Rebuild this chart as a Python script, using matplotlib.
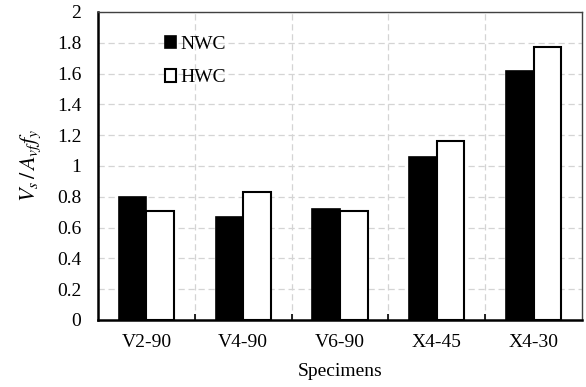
import numpy as np
import matplotlib.pyplot as plt

# 数据
specimens = ["V2-90", "V4-90", "V6-90", "X4-45", "X4-30"]
nwc = [0.80, 0.67, 0.72, 1.06, 1.62]
hwc = [0.71, 0.83, 0.71, 1.16, 1.77]
yticklabels = ["0", "0.2", "0.4", "0.6", "0.8", "1", "1.2", "1.4", "1.6", "1.8", "2"]

plt.rcParams['font.family'] = ['Liberation Serif', 'DejaVu Serif']
plt.rcParams['mathtext.fontset'] = 'stix'

fig = plt.figure(figsize=(5.86, 3.87), dpi=100)
ax = fig.add_axes([98/586, 1 - 320/387, 484/586, 308/387])

x = np.arange(len(specimens))
w = 0.285
ax.bar(x - w/2, nwc, w, color="black", edgecolor="black", linewidth=1.2, label="NWC", zorder=3)
ax.bar(x + w/2, hwc, w, color="white", edgecolor="black", linewidth=1.5, label="HWC", zorder=3)

ax.set_xlim(-0.5, len(specimens) - 0.5)
ax.set_ylim(0, 2)
ax.set_yticks(np.linspace(0, 2, 11))
ax.set_yticklabels(yticklabels)
ax.set_xticks(x)
ax.set_xticklabels(specimens)
ax.set_xticks(np.arange(0.5, len(specimens) - 1, 1), minor=True)
ax.tick_params(axis='x', which='major', length=0, pad=10, labelsize=14)
ax.tick_params(axis='x', which='minor', direction='in', length=4, width=1.2)
ax.tick_params(axis='y', length=0, pad=12, labelsize=14)

ax.grid(axis='y', color='#d4d4d4', linestyle=(0, (5, 3)), linewidth=0.9, zorder=0)
ax.grid(axis='x', which='minor', color='#d4d4d4', linestyle=(0, (5, 3)), linewidth=0.9, zorder=0)

for s in ['left', 'bottom']:
    ax.spines[s].set_linewidth(1.8)
    ax.spines[s].set_color('black')
for s in ['top', 'right']:
    ax.spines[s].set_linewidth(1.0)
    ax.spines[s].set_color('#404040')

ax.set_xlabel("Specimens", fontsize=14, labelpad=9)
ax.set_ylabel(r"$V_s\,/\,A_{vf}f_y$", fontsize=16, labelpad=10)

ax.legend(loc='upper left', bbox_to_anchor=(0.122, 0.948), frameon=False,
          fontsize=14, handlelength=0.6, handleheight=0.6, handletextpad=0.2,
          labelspacing=0.85, borderaxespad=0)

plt.savefig("out.png", dpi=100)
